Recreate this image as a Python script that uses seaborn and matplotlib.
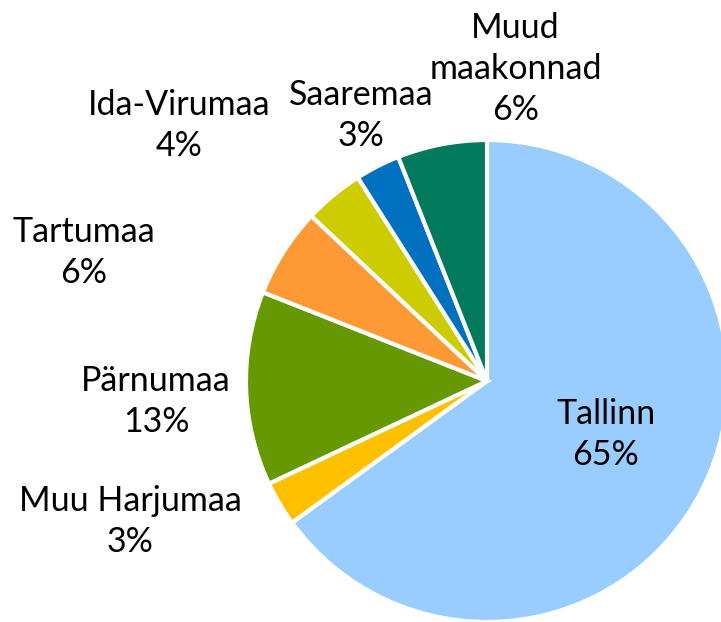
import numpy as np
import matplotlib
matplotlib.use("Agg")
import matplotlib.pyplot as plt
import seaborn as sns

sns.set_theme(style="white")
plt.rcParams['font.family'] = ['Lato', 'DejaVu Sans']

regions = ["Tallinn", "Muu Harjumaa", "Pärnumaa", "Tartumaa", "Ida-Virumaa", "Saaremaa", "Muud\nmaakonnad"]
shares = [65, 3, 13, 6, 4, 3, 6]
colors = ["#99CCFF", "#FFC000", "#669900", "#FF9933", "#CCCC00", "#0070C0", "#007A5A"]

# label layout (angle in degrees, radial distance in radius units)
label_angles = [-24.2, -158.5, -176.5, 162.3, 140.3, 115.3, 84.8]
label_dist = [0.54, 1.59, 1.375, 1.758, 1.66, 1.22, 1.30]

fig = plt.figure(figsize=(7.21, 6.22), dpi=100)
ax = fig.add_axes([0, 0, 1, 1])
wedges, _ = ax.pie(shares, colors=colors, startangle=90, counterclock=False,
                   radius=1.0, wedgeprops=dict(edgecolor="white", linewidth=3))
for name, v, a, d in zip(regions, shares, label_angles, label_dist):
    x = d * np.cos(np.deg2rad(a))
    y = d * np.sin(np.deg2rad(a))
    ax.text(x, y, f"{name}\n{v}%", ha="center", va="center", fontsize=24.5,
            color="black", linespacing=1.35)

ax.set_xlim(-487 / 241, (721 - 487) / 241)
ax.set_ylim(-241 / 241, 381 / 241)
ax.set_aspect("equal")
ax.axis("off")
fig.savefig("out.png", dpi=100)
